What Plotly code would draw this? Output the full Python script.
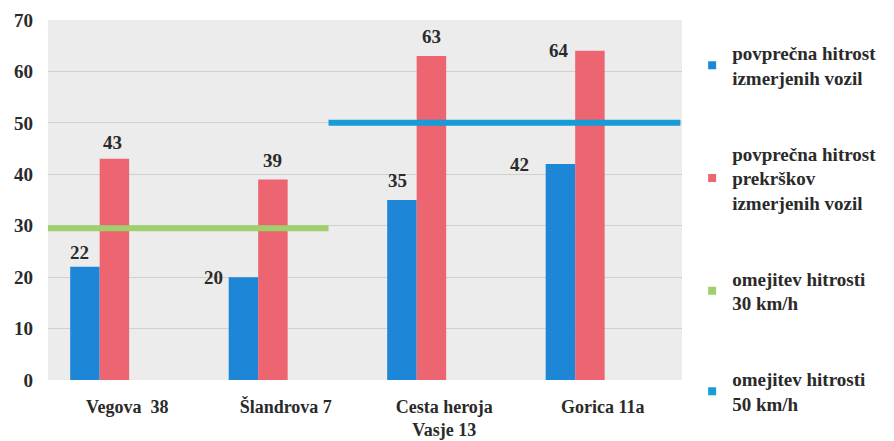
import plotly.graph_objects as go

# ---- data ----
categories = ["Vegova  38", "Šlandrova 7", "Cesta heroja<br>Vasje 13", "Gorica 11a"]
avg_speed = [22, 20, 35, 42]                 # povprečna hitrost izmerjenih vozil
avg_violation_speed = [43, 39, 63, 64]       # povprečna hitrost prekrškov
speed_limit = [30, 30, 50, 50]               # omejitev hitrosti na lokaciji
y_ticks = [0, 10, 20, 30, 40, 50, 60, 70]

legend_names = [
    "povprečna hitrost<br>izmerjenih vozil",
    "povprečna hitrost<br>prekrškov<br>izmerjenih vozil",
    "omejitev hitrosti<br>30 km/h",
    "omejitev hitrosti<br>50 km/h",
]

# ---- style ----
BLUE = "#1d86d6"
RED = "#ec6571"
GREEN = "#9fd06c"
LINE_BLUE = "#189bd6"
FONT = "Liberation Serif"
TXT = "#2a2a2a"

x_idx = list(range(len(categories)))
bar_w = 0.186

fig = go.Figure()
fig.add_trace(go.Bar(x=x_idx, y=avg_speed, width=bar_w, offset=-0.36,
                     marker=dict(color=BLUE, line=dict(width=0)), showlegend=False))
fig.add_trace(go.Bar(x=x_idx, y=avg_violation_speed, width=bar_w, offset=-0.174,
                     marker=dict(color=RED, line=dict(width=0)), showlegend=False))

# speed-limit lines: one segment per run of equal limits
limit_colors = {30: GREEN, 50: LINE_BLUE}
runs = []
start = 0
for i in range(1, len(speed_limit) + 1):
    if i == len(speed_limit) or speed_limit[i] != speed_limit[start]:
        runs.append((start, i - 1, speed_limit[start]))
        start = i
split_shift = -0.23
for k, (a, b, lim) in enumerate(runs):
    x0 = a - 0.5 if k == 0 else a - 0.5 + split_shift
    x1 = b + 0.49 if k == len(runs) - 1 else b + 0.5 + split_shift
    y = lim - 0.5 if lim == 30 else lim
    fig.add_trace(go.Scatter(x=[x0, x1], y=[y, y], mode="lines",
                             line=dict(color=limit_colors[lim], width=6),
                             showlegend=False, hoverinfo="skip"))

# legend entries (square markers)
for name, col in zip(legend_names, [BLUE, RED, GREEN, LINE_BLUE]):
    fig.add_trace(go.Scatter(x=[None], y=[None], mode="markers", name=name,
                             marker=dict(symbol="square", size=8, color=col),
                             legendgroup=name))

# data labels
label_font = dict(family=FONT, size=19, color=TXT, weight="bold")
blue_shift = [(-5, 14), (-30, 0), (-4, 20), (-41, 0)]
red_shift = [(-2, 16), (0, 19), (0, 20), (-31, 0)]
for i in x_idx:
    for vals, off, shifts in ((avg_speed, -0.36, blue_shift),
                              (avg_violation_speed, -0.174, red_shift)):
        fig.add_annotation(x=i + off + bar_w / 2, y=vals[i], text=str(vals[i]),
                           showarrow=False, xshift=shifts[i][0], yshift=shifts[i][1],
                           font=label_font)

fig.update_layout(
    width=894, height=441,
    margin=dict(l=48, r=201, t=20, b=61),
    paper_bgcolor="white",
    plot_bgcolor="#ececec",
    barmode="overlay",
    font=dict(family=FONT, size=18, color=TXT),
    legend=dict(x=1.016, y=0.961, xanchor="left", yanchor="top",
                font=dict(family=FONT, size=19, color=TXT, weight="bold"),
                tracegroupgap=48, bgcolor="rgba(0,0,0,0)", itemclick=False,
                maxheight=440),
    xaxis=dict(range=[-0.5, 3.5], tickmode="array", tickvals=x_idx, ticktext=categories,
               showgrid=False, zeroline=False, showline=False, ticks="",
               automargin=False, ticklabelstandoff=14,
               tickfont=dict(family=FONT, size=18, color=TXT, weight="bold")),
    yaxis=dict(range=[0, 70], tickmode="array", tickvals=y_ticks,
               showgrid=True, gridcolor="#d0d0d0", gridwidth=1, zeroline=False,
               ticks="", ticklabelstandoff=14, automargin=False,
               tickfont=dict(family=FONT, size=19, color=TXT, weight="bold")),
)

fig.write_html("out.html", config={"displayModeBar": False},
               post_script="document.body.style.margin='0';")
